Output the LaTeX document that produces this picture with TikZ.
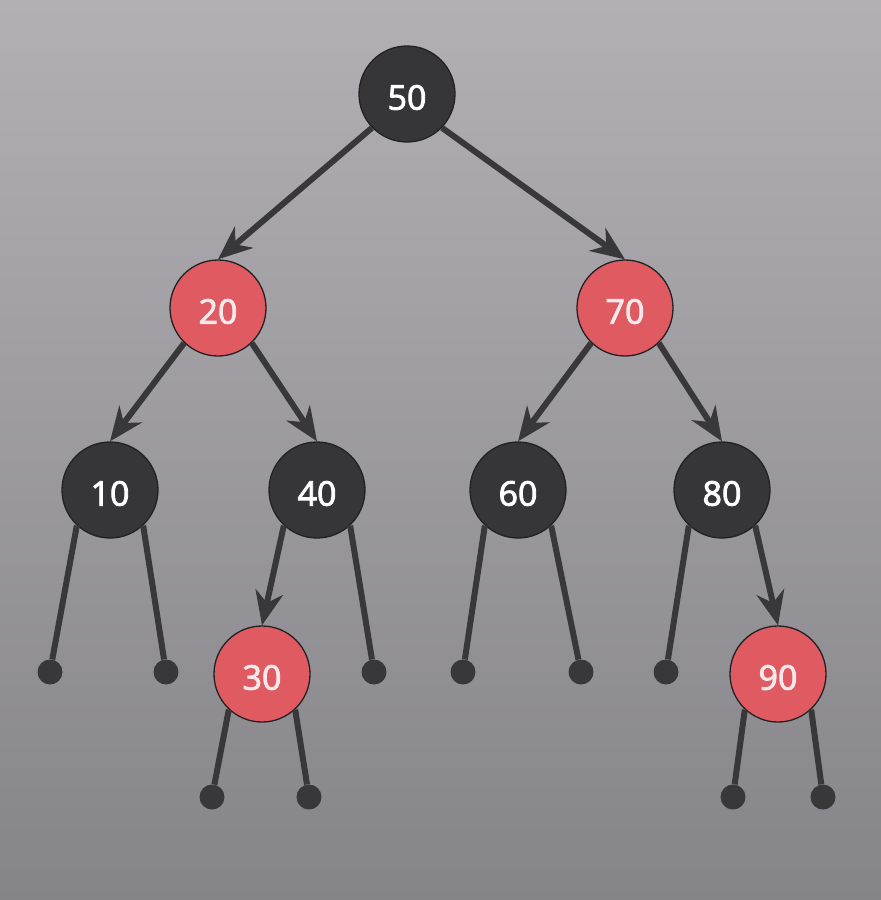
\documentclass[tikz,border=0pt]{standalone}
\usepackage{fontspec}
\setmainfont{Open Sans}
\newfontfamily\numfont{Open Sans}[FakeBold=2.5]
\usetikzlibrary{arrows.meta}
\definecolor{bgtop}{HTML}{B2B0B4}
\definecolor{bgmid}{HTML}{A8A7AB}
\definecolor{bgbot}{HTML}{858488}
\definecolor{nodedark}{HTML}{363538}
\definecolor{nodered}{HTML}{E05A62}
\definecolor{edgecol}{HTML}{38373A}
\definecolor{rimcol}{HTML}{222124}
\definecolor{redtext}{HTML}{F5E9EB}
\newcommand{\lbl}[1]{\raisebox{-3.5pt}[\height][\depth]{#1}}
\tikzset{
  treenode/.style={circle, minimum size=96pt, inner sep=0pt, line width=1.3pt, draw=rimcol,
    font=\numfont\fontsize{34}{34}\selectfont},
  blacknode/.style={treenode, fill=nodedark, text=white},
  rednode/.style={treenode, fill=nodered, text=redtext},
  leafdot/.style={circle, minimum size=25pt, inner sep=0pt, fill=edgecol},
  link/.style={line width=6pt, draw=edgecol},
  arrowlink/.style={link, -{Stealth[length=34pt, width=28pt, inset=11pt]}},
}
\begin{document}
\begin{tikzpicture}[x=1pt, y=-1pt]
\useasboundingbox (0,0) rectangle (881,900);
\shade[top color=bgtop, middle color=bgmid, bottom color=bgbot] (0,0) rectangle (881,900);

% leaf dots
\node[leafdot] (l1) at (50,672) {};
\node[leafdot] (l2) at (166,672) {};
\node[leafdot] (l3) at (374,672) {};
\node[leafdot] (l4) at (463,672) {};
\node[leafdot] (l5) at (581,672) {};
\node[leafdot] (l6) at (666,672) {};
\node[leafdot] (l7) at (212,797) {};
\node[leafdot] (l8) at (309,797) {};
\node[leafdot] (l9) at (733,797) {};
\node[leafdot] (l10) at (823,797) {};

% tree nodes
\node[blacknode] (n50) at (407,94) {\lbl{50}};
\node[rednode] (n20) at (218,308) {\lbl{20}};
\node[rednode] (n70) at (625,308) {\lbl{70}};
\node[blacknode] (n10) at (110,490) {\lbl{10}};
\node[blacknode] (n40) at (317,490) {\lbl{40}};
\node[blacknode] (n60) at (518,490) {\lbl{60}};
\node[blacknode] (n80) at (722,490) {\lbl{80}};
\node[rednode] (n30) at (262,674) {\lbl{30}};
\node[rednode] (n90) at (778,674) {\lbl{90}};

% arrows between nodes
\draw[arrowlink] (n50.224) -- (n20.north);
\draw[arrowlink] (n50.316) -- (n70.north);
\draw[arrowlink] (n20.226) -- (n10.north);
\draw[arrowlink] (n20.314) -- (n40.north);
\draw[arrowlink] (n70.226) -- (n60.north);
\draw[arrowlink] (n70.314) -- (n80.north);
\draw[arrowlink] (n40.227) -- (n30.north);
\draw[arrowlink] (n80.313) -- (n90.north);

% lines to leaves
\draw[link] (n10.227) -- (l1);
\draw[link] (n10.313) -- (l2);
\draw[link] (n40.313) -- (l3);
\draw[link] (n60.227) -- (l4);
\draw[link] (n60.313) -- (l5);
\draw[link] (n80.227) -- (l6);
\draw[link] (n30.227) -- (l7);
\draw[link] (n30.313) -- (l8);
\draw[link] (n90.227) -- (l9);
\draw[link] (n90.313) -- (l10);
\end{tikzpicture}
\end{document}
